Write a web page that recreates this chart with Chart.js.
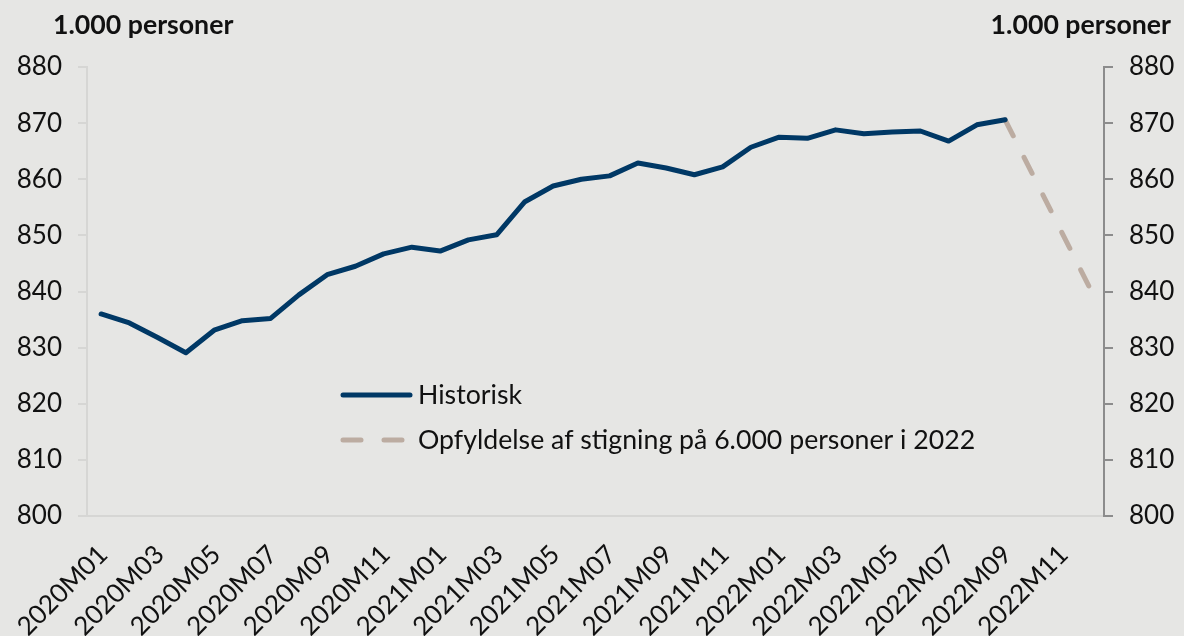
<!DOCTYPE html>
<html>
<head>
<meta charset="utf-8">
<script src="https://cdn.jsdelivr.net/npm/chart.js@4/dist/chart.umd.min.js"></script>
<style>
  html, body { margin: 0; padding: 0; background: #e6e6e4; }
  #wrap { width: 1184px; height: 636px; }
</style>
</head>
<body>
<div id="wrap"><canvas id="chart" width="1184" height="636"></canvas></div>
<script>
// months on the x axis, 2020M01 .. 2022M12
const months = [
  '2020M01','2020M02','2020M03','2020M04','2020M05','2020M06','2020M07','2020M08','2020M09','2020M10','2020M11','2020M12',
  '2021M01','2021M02','2021M03','2021M04','2021M05','2021M06','2021M07','2021M08','2021M09','2021M10','2021M11','2021M12',
  '2022M01','2022M02','2022M03','2022M04','2022M05','2022M06','2022M07','2022M08','2022M09','2022M10','2022M11','2022M12'
];

// historisk, 1.000 personer
const historisk = [
  836.0, 834.4, 831.8, 829.1, 833.1, 834.8, 835.2, 839.4, 843.0, 844.5, 846.7, 847.9,
  847.2, 849.2, 850.1, 856.0, 858.8, 860.0, 860.6, 862.9, 862.0, 860.8, 862.2, 865.7,
  867.5, 867.3, 868.8, 868.1, 868.4, 868.6, 866.8, 869.7, 870.6, null, null, null
];

// opfyldelse af stigning paa 6.000 personer i 2022
const opfyldelse = [
  null, null, null, null, null, null, null, null, null, null, null, null,
  null, null, null, null, null, null, null, null, null, null, null, null,
  null, null, null, null, null, null, null, null, 870.6, 860.6, 850.6, 840.6
];

const yTicks = [800, 810, 820, 830, 840, 850, 860, 870, 880];
const unitLabel = '1.000 personer';
const legendLabels = ['Historisk', 'Opfyldelse af stigning på 6.000 personer i 2022'];

const navy = '#003865';
const taupe = '#bcaca1';
const font = 'Lato';

// background + titles + legend drawn on the canvas
const decor = {
  id: 'decor',
  beforeDraw(chart) {
    const ctx = chart.ctx;
    ctx.save();
    ctx.fillStyle = '#e6e6e4';
    ctx.fillRect(0, 0, chart.width, chart.height);
    ctx.restore();
  },
  afterDraw(chart) {
    const ctx = chart.ctx;
    ctx.save();
    ctx.fillStyle = '#111';
    ctx.font = 'bold 26.7px ' + font;
    ctx.textBaseline = 'alphabetic';
    ctx.textAlign = 'left';
    ctx.fillText(unitLabel, 53, 34);
    ctx.textAlign = 'right';
    ctx.fillText(unitLabel, 1171, 34);

    // legend
    ctx.font = '26.7px ' + font;
    ctx.textAlign = 'left';
    ctx.textBaseline = 'middle';
    ctx.lineCap = 'round';
    ctx.lineWidth = 5;
    ctx.strokeStyle = navy;
    ctx.beginPath();
    ctx.moveTo(343, 395);
    ctx.lineTo(410, 395);
    ctx.stroke();
    ctx.fillText(legendLabels[0], 418, 395);

    ctx.strokeStyle = taupe;
    ctx.setLineDash([18, 23]);
    ctx.beginPath();
    ctx.moveTo(343, 440);
    ctx.lineTo(410, 440);
    ctx.stroke();
    ctx.setLineDash([]);
    ctx.fillText(legendLabels[1], 418, 440);
    ctx.restore();
  }
};

new Chart(document.getElementById('chart'), {
  type: 'line',
  data: {
    labels: months,
    datasets: [
      {
        label: legendLabels[0],
        data: historisk,
        borderColor: navy,
        borderWidth: 5,
        pointRadius: 0,
        tension: 0,
        borderJoinStyle: 'round',
        borderCapStyle: 'round',
        yAxisID: 'y'
      },
      {
        label: legendLabels[1],
        data: opfyldelse,
        borderColor: taupe,
        borderWidth: 5,
        borderDash: [18, 24],
        borderCapStyle: 'round',
        pointRadius: 0,
        tension: 0,
        yAxisID: 'y'
      }
    ]
  },
  options: {
    responsive: false,
    animation: false,
    layout: { padding: { top: 67, left: 0, right: 0, bottom: 0 } },
    plugins: {
      legend: { display: false },
      tooltip: { enabled: false }
    },
    scales: {
      x: {
        offset: true,
        grid: { display: false },
        border: { display: true, color: '#d6d6d4', width: 2 },
        ticks: {
          autoSkip: false,
          minRotation: 45,
          maxRotation: 45,
          padding: 15,
          labelOffset: 2,
          color: '#111',
          font: { family: font, size: 26 },
          callback: (v, i) => (i % 2 === 0 ? months[i] : '')
        },
        afterFit: s => { s.height = 120; }
      },
      y: {
        position: 'left',
        min: yTicks[0],
        max: yTicks[yTicks.length - 1],
        afterBuildTicks: s => { s.ticks = yTicks.map(v => ({ value: v })); },
        grid: { display: true, drawOnChartArea: false, drawTicks: true, tickLength: 9, color: '#d6d6d4', lineWidth: 2 },
        border: { display: true, color: '#d6d6d4', width: 2 },
        ticks: { padding: 16, color: '#111', font: { family: font, size: 26 } },
        afterFit: s => { s.width = 87; }
      },
      y2: {
        position: 'right',
        display: true,
        min: yTicks[0],
        max: yTicks[yTicks.length - 1],
        afterBuildTicks: s => { s.ticks = yTicks.map(v => ({ value: v })); },
        grid: { display: true, drawOnChartArea: false, drawTicks: true, tickLength: 9, color: '#8c8c8c', lineWidth: 2 },
        border: { display: true, color: '#8c8c8c', width: 2 },
        ticks: { padding: 16, color: '#111', font: { family: font, size: 26 } },
        afterFit: s => { s.width = 80; }
      }
    }
  },
  plugins: [decor]
});
</script>
</body>
</html>
